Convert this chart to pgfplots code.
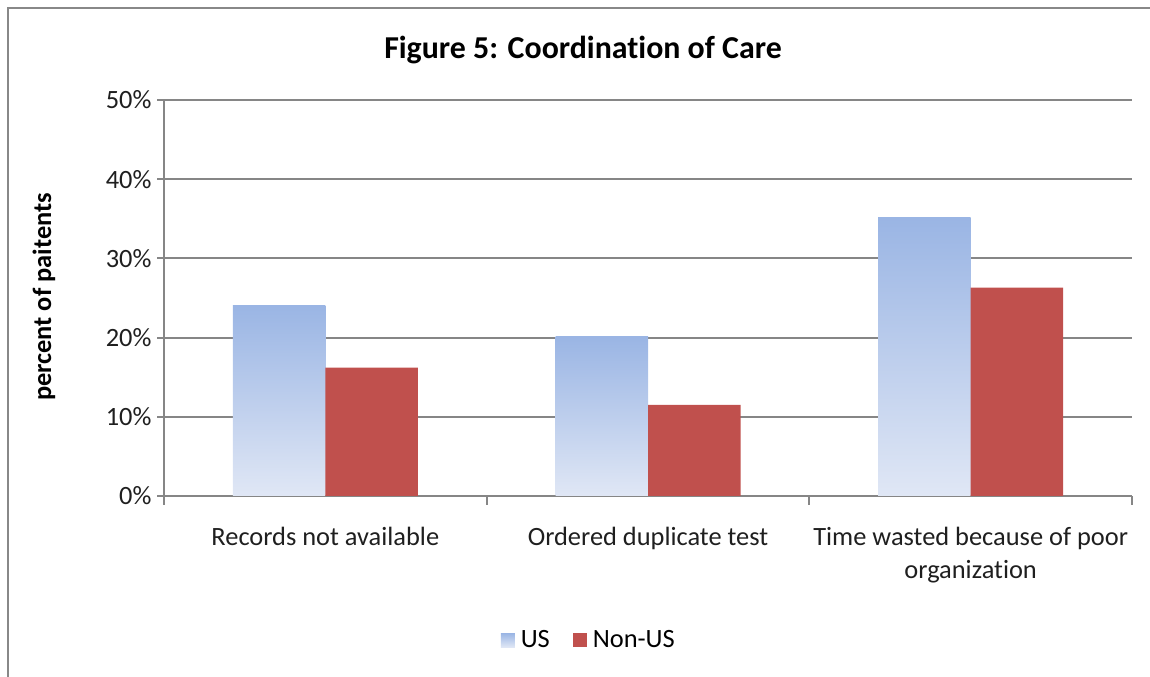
\documentclass[border=0pt]{standalone}
\usepackage{pgfplots}
\pgfplotsset{compat=1.18}
\usepackage{fontspec}
\setmainfont{Carlito}[Ligatures={NoCommon,NoContextual,NoRequired},Contextuals={NoAlternate}]
\definecolor{gridgray}{RGB}{134,134,134}
\definecolor{frame}{RGB}{136,136,136}
\definecolor{ustop}{RGB}{154,181,228}
\definecolor{usbot}{RGB}{224,231,245}
\definecolor{nonus}{RGB}{192,80,77}
\begin{document}
\begin{tikzpicture}[x=1bp,y=1bp]
\useasboundingbox (0,0) rectangle (1150,677);
\draw[frame, line width=2bp] (8,0) -- (8,669) -- (1150,669);
\node[font=\fontsize{32}{38}\selectfont\bfseries] at (583,627) {Figure 5: Coordination of Care};
\node[font=\fontsize{26.5}{32}\selectfont\bfseries, rotate=90] at (44,380) {percent of paitents};
\begin{axis}[
  at={(164bp,181bp)}, anchor=south west,
  scale only axis, width=968bp, height=396bp,
  xmin=-0.5, xmax=2.5, ymin=0, ymax=50,
  ybar=0pt, bar width=92.5bp,
  axis x line*=bottom, axis y line*=left,
  axis line style={gridgray, line width=2bp},
  ytick={0,10,20,30,40,50},
  yticklabels={0\%,10\%,20\%,30\%,40\%,50\%},
  xtick={0,1,2},
  xticklabels={Records not available, Ordered duplicate test, {Time wasted because of poor\\organization}},
  minor xtick={-0.5,0.5,1.5,2.5},
  tick align=outside,
  major tick length=7bp, minor tick length=9bp,
  major x tick style={draw=none},
  y tick style={gridgray, line width=2bp},
  minor x tick style={gridgray, line width=2bp},
  ymajorgrids, grid style={gridgray, line width=2bp},
  tick label style={font=\fontsize{26.5}{33}\selectfont, text=black!88},
  xticklabel style={align=center, yshift=-21bp},
  yticklabel style={xshift=-2bp},
  legend style={at={(0.428,-0.364)}, anchor=center, draw=none, legend columns=2,
    font=\fontsize{26.5}{32}\selectfont},
  legend image code/.code={\path[#1, draw=none] (0bp,-7bp) rectangle (14bp,7bp); \path[draw=none, fill=none, shade=none] (-21bp,-1bp) rectangle (18bp,1bp);},
  clip=false,
]
\addplot[draw=none, top color=ustop, bottom color=usbot, shading=axis, bar shift=-46.25bp] coordinates {(0,24.1)};
\addplot[forget plot, draw=none, top color=ustop, bottom color=usbot, shading=axis, bar shift=-46.25bp] coordinates {(1,20.1)};
\addplot[forget plot, draw=none, top color=ustop, bottom color=usbot, shading=axis, bar shift=-46.25bp] coordinates {(2,35.1)};
\addplot[draw=none, fill=nonus, bar shift=46.25bp] coordinates {(0,16.2) (1,11.5) (2,26.3)};
\legend{US, Non-US}
\end{axis}
\end{tikzpicture}
\end{document}
